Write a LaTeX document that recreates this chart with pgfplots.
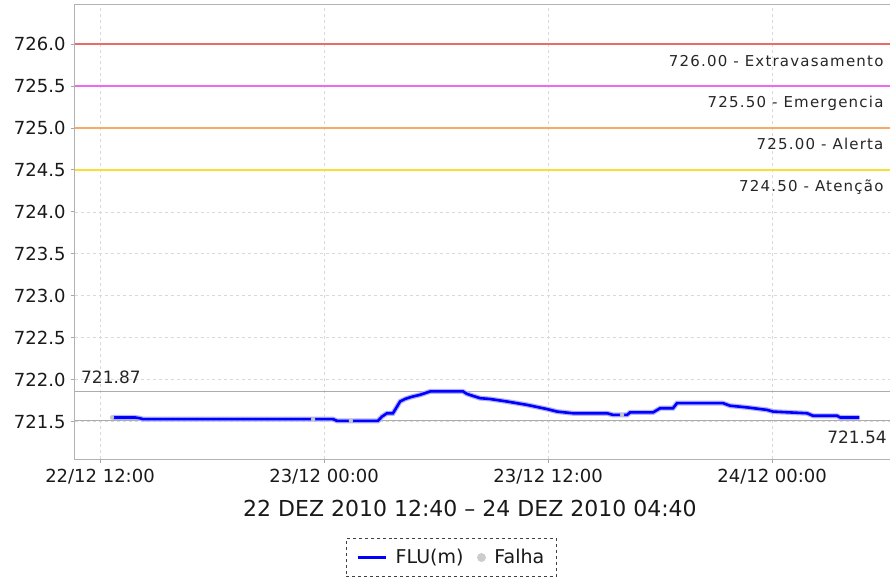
\documentclass[border=0pt]{standalone}
\usepackage{pgfplots}
\usepackage{pgfplotstable}
\pgfplotsset{compat=1.18}
\usepackage{fontspec}
\setmainfont{DejaVu Sans}

\definecolor{thrRed}{RGB}{240,105,105}
\definecolor{thrMagenta}{RGB}{238,105,238}
\definecolor{thrOrange}{RGB}{248,170,100}
\definecolor{thrYellow}{RGB}{245,225,50}
\definecolor{flublue}{RGB}{0,0,255}

\pgfplotstableread{
h v
12.67 721.55
13.87 721.55
14.14 721.54
14.30 721.53
24.48 721.53
24.69 721.51
26.89 721.51
27.10 721.56
27.37 721.60
27.69 721.60
27.91 721.68
28.07 721.74
28.34 721.77
28.60 721.79
28.77 721.80
29.14 721.82
29.68 721.86
31.44 721.86
31.66 721.83
32.35 721.78
32.89 721.77
33.80 721.74
34.87 721.70
35.94 721.65
36.48 721.62
37.33 721.60
39.16 721.60
39.48 721.58
40.23 721.58
40.39 721.61
41.62 721.61
42.00 721.66
42.69 721.66
42.90 721.72
45.37 721.72
45.74 721.69
46.65 721.67
47.73 721.64
48.05 721.62
49.87 721.60
50.19 721.57
51.48 721.57
51.64 721.55
52.67 721.55
}\flu

\pgfplotstableread{
h v
12.64 721.55
23.41 721.53
25.44 721.51
39.96 721.58
}\falha

\newcommand{\thrfont}{\fontsize{15bp}{17bp}\selectfont\addfontfeature{LetterSpace=8}}

\begin{document}
\begin{tikzpicture}
\begin{axis}[
  name=ax,
  scale only axis,
  width=820bp, height=454bp,
  xmin=10.66, xmax=54.58,
  ymin=721.055, ymax=726.465,
  clip=false,
  xtick={12,24,36,48},
  xticklabels={22/12 12:00, 23/12 00:00, 23/12 12:00, 24/12 00:00},
  ytick={721.5,722,722.5,723,723.5,724,724.5,725,725.5,726},
  yticklabel style={xshift=-2bp, /pgf/number format/.cd, fixed, fixed zerofill, precision=1, 1000 sep={}},
  /pgf/number format/assume math mode=true,
  ticklabel style={font=\fontsize{18bp}{20bp}\selectfont, text=black!90},
  xticklabel style={yshift=-3bp},
  tick align=outside,
  xtick pos=bottom, ytick pos=left,
  major tick length=4bp,
  tick style={gray!70, line width=0.8bp},
  axis line style={gray!60, line width=1bp},
  grid=major,
  major grid style={dashed, gray!30, line width=0.7bp},
  xlabel={22 DEZ 2010 12:40 -- 24 DEZ 2010 04:40},
  xlabel style={at={(axis description cs:0.4817,-0.108)}, anchor=center, font=\fontsize{22bp}{25bp}\selectfont, text=black!90},
  legend columns=-1,
  legend style={at={(axis description cs:0.459,-0.217)}, anchor=center,
    draw=black!75, dashed, line width=0.8bp,
    font=\fontsize{19bp}{22bp}\selectfont, text=black!90,
    inner xsep=10bp, inner ysep=9bp,
    /tikz/every odd column/.append style={column sep=7bp},
    /tikz/every even column/.append style={column sep=12bp}},
]
% threshold lines
\addplot[thrRed, line width=1.3bp, forget plot] coordinates {(10.66,726) (54.58,726)};
\addplot[thrMagenta, line width=1.3bp, forget plot] coordinates {(10.66,725.5) (54.58,725.5)};
\addplot[thrOrange, line width=1.3bp, forget plot] coordinates {(10.66,725) (54.58,725)};
\addplot[thrYellow, line width=1.5bp, forget plot] coordinates {(10.66,724.5) (54.58,724.5)};
% max / min lines
\addplot[gray!65, line width=1bp, forget plot] coordinates {(10.66,721.86) (54.58,721.86)};
\addplot[gray!65, line width=1bp, forget plot] coordinates {(10.66,721.515) (54.58,721.515)};
% data halo + line
\addplot[flublue!30, line width=5bp, forget plot] table[x=h,y=v] {\flu};
\addplot[flublue, line width=2.6bp, forget plot] table[x=h,y=v] {\flu};
\addplot[only marks, mark=*, mark size=2bp, gray!45, forget plot] table[x=h,y=v] {\falha};

\addlegendimage{legend image code/.code={\draw[flublue, line width=2.2bp, solid] (0bp,0bp) -- (28bp,0bp);}}
\addlegendentry{FLU(m)}
\addlegendimage{only marks, mark=*, mark size=4bp, gray!40, mark options={solid}}
\addlegendentry{Falha}

% labels
\node[anchor=base east, text=black!85] at (axis cs:54.15,725.738) {\thrfont 726.00 - Extravasamento};
\node[anchor=base east, text=black!85] at (axis cs:54.15,725.238) {\thrfont 725.50 - Emergencia};
\node[anchor=base east, text=black!85] at (axis cs:54.15,724.738) {\thrfont 725.00 - Alerta};
\node[anchor=base east, text=black!85] at (axis cs:54.15,724.238) {\thrfont 724.50 - Atenção};
\node[anchor=base west, text=black!85, inner sep=0pt] at (axis cs:10.98,721.949) {\fontsize{17bp}{19bp}\selectfont 721.87};
\node[anchor=base east, text=black!85, inner sep=0pt] at (axis cs:54.15,721.243) {\fontsize{17bp}{19bp}\selectfont 721.54};
\end{axis}
\pgfresetboundingbox
\path[use as bounding box] ([shift={(-75bp,-123bp)}]ax.south west) rectangle ([shift={(815bp,459bp)}]ax.south west);
\end{tikzpicture}
\end{document}
